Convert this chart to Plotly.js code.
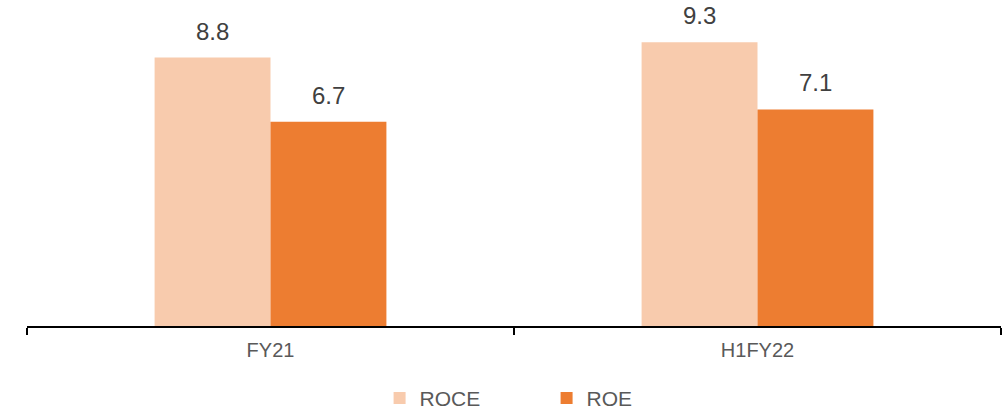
<!DOCTYPE html>
<html>
<head>
<meta charset="utf-8">
<script src="https://cdn.plot.ly/plotly-3.0.1.min.js"></script>
<style>html,body{margin:0;padding:0;background:#fff;}#chart{width:1004px;height:414px;}</style>
</head>
<body>
<div id="chart"></div>
<script>
var categories = ["FY21", "H1FY22"];
var roce = [8.8, 9.3];
var roe = [6.7, 7.1];
var seriesNames = ["ROCE", "ROE"];
var colors = ["#F8CBAD", "#ED7D31"];

var traces = [
  {type: "bar", name: seriesNames[0], x: categories, y: roce, marker: {color: colors[0]}, hoverinfo: "none"},
  {type: "bar", name: seriesNames[1], x: categories, y: roe, marker: {color: colors[1]}, hoverinfo: "none"}
];

var annotations = [];
[roce, roe].forEach(function (vals, s) {
  vals.forEach(function (v, i) {
    annotations.push({
      x: categories[i], y: v, xref: "x", yref: "y",
      text: v.toFixed(1), showarrow: false,
      xshift: s === 0 ? -58 : 58, yshift: 11, yanchor: "bottom",
      font: {family: "Liberation Sans, Arial, sans-serif", size: 24, color: "#404040"}
    });
  });
});

var layout = {
  width: 1004, height: 414,
  margin: {l: 27, r: 3, t: 21, b: 88, autoexpand: false},
  paper_bgcolor: "#ffffff", plot_bgcolor: "#ffffff",
  barmode: "group", bargap: 0.524, bargroupgap: 0,
  font: {family: "Liberation Sans, Arial, sans-serif", color: "#595959"},
  xaxis: {
    type: "category", showline: true, linecolor: "#000000", linewidth: 2,
    ticks: "outside", tickson: "boundaries", ticklen: 7, tickwidth: 2, tickcolor: "#000000",
    ticklabelstandoff: 5,
    tickfont: {size: 20, color: "#595959"}, showgrid: false, zeroline: false, fixedrange: true
  },
  yaxis: {range: [0, 10], visible: false, showgrid: false, zeroline: false, fixedrange: true},
  showlegend: true,
  legend: {
    orientation: "h", x: 0.362, xanchor: "left", yref: "container", y: 0.038, yanchor: "middle",
    font: {size: 21, color: "#595959"}, entrywidth: 122, entrywidthmode: "pixels",
    itemclick: false, itemdoubleclick: false
  },
  annotations: annotations
};

Plotly.newPlot("chart", traces, layout, {displayModeBar: false, staticPlot: true});
</script>
</body>
</html>
